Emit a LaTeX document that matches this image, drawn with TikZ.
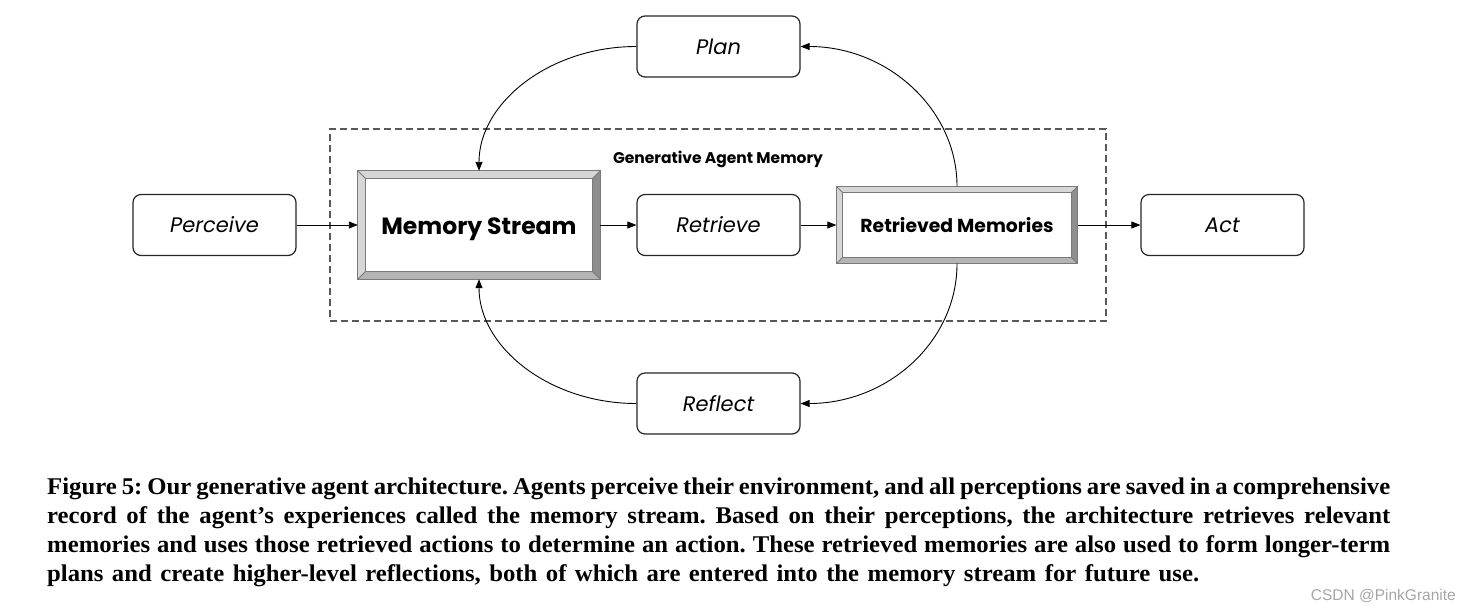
\documentclass[tikz,border=0pt]{standalone}
\usepackage{fontspec}
\setmainfont{Liberation Serif}
\newfontfamily\capfont[FakeStretch=1.03]{Liberation Serif}
\newfontfamily\dfont{Poppins}
\newfontfamily\wmfont{Liberation Sans}
\usetikzlibrary{arrows.meta,calc}
\definecolor{bevlight}{HTML}{D6D6D6}
\definecolor{bevmid}{HTML}{B4B4B4}
\definecolor{bevdark}{HTML}{8E8E8E}
\definecolor{bevline}{HTML}{7A7A7A}
\newcommand{\bevelbox}[2]{%
  \fill[bevlight] (#1.north west) -- (#1.north east) -- ($(#1.north east)+(-#2,#2)$) -- ($(#1.north west)+(#2,#2)$) -- cycle;
  \fill[bevlight] (#1.north west) -- ($(#1.north west)+(#2,#2)$) -- ($(#1.south west)+(#2,-#2)$) -- (#1.south west) -- cycle;
  \fill[bevdark] (#1.north east) -- (#1.south east) -- ($(#1.south east)+(-#2,-#2)$) -- ($(#1.north east)+(-#2,#2)$) -- cycle;
  \fill[bevmid] (#1.south west) -- (#1.south east) -- ($(#1.south east)+(-#2,-#2)$) -- ($(#1.south west)+(#2,-#2)$) -- cycle;
  \draw[bevline,line width=1.3pt] (#1.north west) rectangle (#1.south east);
  \draw[bevline,line width=1.3pt,fill=white] ($(#1.north west)+(#2,#2)$) rectangle ($(#1.south east)+(-#2,-#2)$);
  \draw[bevline,line width=0.8pt] (#1.north west) -- ($(#1.north west)+(#2,#2)$)
     (#1.north east) -- ($(#1.north east)+(-#2,#2)$)
     (#1.south west) -- ($(#1.south west)+(#2,-#2)$)
     (#1.south east) -- ($(#1.south east)+(-#2,-#2)$);
}
\newcommand{\capline}[2]{\hbox to #1pt{#2}}
\begin{document}
\begin{tikzpicture}[x=1pt,y=-1pt,
  stepbox/.style={draw=black!85,line width=1.2pt,rounded corners=8pt,minimum width=163pt,minimum height=61pt,inner sep=0pt,
     text height=15pt,text depth=0pt,font=\dfont\itshape\fontsize{21}{25}\selectfont},
  bevnode/.style={inner sep=0pt,draw=none},
  conn/.style={line width=0.9pt,-{Triangle[length=9pt,width=7pt]}},
  dashbox/.style={draw=black!65,line width=2pt,dash pattern=on 7pt off 4pt}]
\useasboundingbox[fill=white] (0,0) rectangle (1471,611);
% dashed region
\node[dashbox,minimum width=776pt,minimum height=192pt,inner sep=0pt] (gam) at (718,225) {};
\node[anchor=base,inner sep=0pt,font=\dfont\bfseries\fontsize{15.5}{18}\selectfont] (gamlabel) at (718,163) {Generative Agent Memory};
% rounded boxes
\node[stepbox] (plan) at (718.5,46.5) {Plan};
\node[stepbox] (perceive) at (214.5,225) {Perceive};
\node[stepbox] (retrieve) at (718.5,225) {Retrieve};
\node[stepbox] (act) at (1222.5,225) {Act};
\node[stepbox] (reflect) at (718.5,403.5) {Reflect};
% beveled boxes
\node[bevnode,minimum width=242pt,minimum height=108pt] (ms) at (479,225) {};
\bevelbox{ms}{7.5}
\node[inner sep=0pt,text height=18pt,text depth=0pt,font=\dfont\bfseries\fontsize{23.5}{28}\selectfont] (mstext) at (479,225) {Memory Stream};
\node[bevnode,minimum width=241pt,minimum height=77pt] (rm) at (957,225) {};
\bevelbox{rm}{6.5}
\node[inner sep=0pt,text height=14pt,text depth=0pt,font=\dfont\bfseries\fontsize{18.8}{22}\selectfont] (rmtext) at (957,225) {Retrieved Memories};
% straight connectors
\draw[conn] (perceive.east) -- (ms.west);
\draw[conn] (ms.east) -- (retrieve.west);
\draw[conn] (retrieve.east) -- (rm.west);
\draw[conn] (rm.east) -- (act.west);
% curved connectors
\draw[conn] (plan.west) .. controls +(-87,0) and +(0,-68) .. (ms.north);
\draw[conn] (rm.north) .. controls +(0,-77) and +(87,0) .. (plan.east);
\draw[conn] (rm.south) .. controls +(0,78) and +(87,0) .. (reflect.east);
\draw[conn] (reflect.west) .. controls +(-87,0) and +(0,68) .. (ms.south);
% caption
\node[anchor=north west,inner sep=0pt,
  font=\capfont\bfseries\fontsize{24}{29}\selectfont\frenchspacing] (caption) at (47,477.5)
 {\vbox{\baselineskip=29pt\spaceskip=4.8pt plus 8pt minus 2.5pt\relax
 \capline{1343}{Figure 5: Our generative agent architecture. Agents perceive their environment, and all perceptions are saved in a comprehensive}
 \capline{1343}{record of the agent’s experiences called the memory stream. Based on their perceptions, the architecture retrieves relevant}
 \capline{1343}{memories and uses those retrieved actions to determine an action. These retrieved memories are also used to form longer-term}
 \capline{1152}{plans and create higher-level reflections, both of which are entered into the memory stream for future use.}}};
\node[anchor=east,inner sep=0pt,text=black!35,font=\wmfont\fontsize{15.5}{18}\selectfont] (wm) at (1456,596) {CSDN @PinkGranite};
\end{tikzpicture}
\end{document}
